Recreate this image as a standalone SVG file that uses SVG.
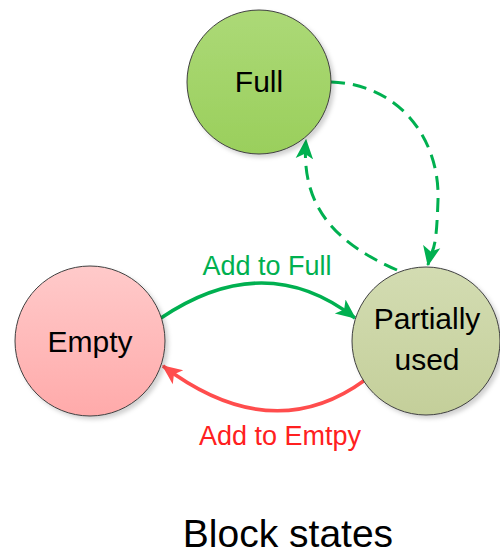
<svg xmlns="http://www.w3.org/2000/svg" width="500" height="556" viewBox="0 0 500 556">
  <style>
    .node { stroke: #3f3f3f; stroke-width: 1; filter: url(#sh); }
    .nt { font-family: "Liberation Sans", Arial, sans-serif; font-size: 30px; fill: #000; text-anchor: middle; }
    .lbl { font-family: "Liberation Sans", Arial, sans-serif; font-size: 27px; text-anchor: middle; }
    .g { stroke: #00b050; fill: none; }
    .r { stroke: #ff4d4d; fill: none; }
    .dash { stroke-width: 3; stroke-dasharray: 14,8; }
  </style>
  <defs>
    <filter id="sh" x="-20%" y="-20%" width="150%" height="150%">
      <feDropShadow dx="3" dy="3" stdDeviation="2" flood-color="#000" flood-opacity="0.18"/>
    </filter>
    <linearGradient id="gFull" x1="0" y1="0" x2="0" y2="1">
      <stop offset="0" stop-color="#acd977"/>
      <stop offset="1" stop-color="#9acf5c"/>
    </linearGradient>
    <linearGradient id="gEmpty" x1="0" y1="0" x2="0" y2="1">
      <stop offset="0" stop-color="#ffcaca"/>
      <stop offset="1" stop-color="#ffaaaa"/>
    </linearGradient>
    <linearGradient id="gPart" x1="0" y1="0" x2="0" y2="1">
      <stop offset="0" stop-color="#d3dcb2"/>
      <stop offset="1" stop-color="#c4cf9a"/>
    </linearGradient>
    <marker id="ag" markerUnits="userSpaceOnUse" markerWidth="20" markerHeight="20" viewBox="0 0 16 14" refX="15" refY="7" orient="auto">
      <path d="M0,0 L16,7 L0,14 L4,7 Z" fill="#00b050"/>
    </marker>
    <marker id="ar" markerUnits="userSpaceOnUse" markerWidth="20" markerHeight="20" viewBox="0 0 16 14" refX="15" refY="7" orient="auto">
      <path d="M0,0 L16,7 L0,14 L4,7 Z" fill="#ff4d4d"/>
    </marker>
  </defs>

  <g id="connectors">
    <path class="g dash" d="M331,82 C400,84 440,140 438,200 S432,245 428,265" marker-end="url(#ag)"/>
    <path class="g dash" d="M397,270 C340,245 300,210 306,140" marker-end="url(#ag)"/>
    <path class="g" stroke-width="3.5" d="M161,318 Q265,248 355,318" marker-end="url(#ag)"/>
    <path class="r" stroke-width="3.5" d="M365,380 Q272,448 163,366" marker-end="url(#ar)"/>
    <text class="lbl" x="267" y="275" fill="#00b050">Add to Full</text>
    <text class="lbl" x="280" y="445" fill="#ff2020">Add to Emtpy</text>
  </g>

  <g id="node-full">
    <circle class="node" cx="259" cy="82" r="72" fill="url(#gFull)"/>
    <text class="nt" x="259" y="92">Full</text>
  </g>
  <g id="node-empty">
    <circle class="node" cx="90" cy="341" r="75" fill="url(#gEmpty)"/>
    <text class="nt" x="90" y="352">Empty</text>
  </g>
  <g id="node-partial">
    <circle class="node" cx="426" cy="341" r="74" fill="url(#gPart)"/>
    <text class="nt" x="427" y="329">Partially</text>
    <text class="nt" x="427" y="370">used</text>
  </g>

  <g id="title">
    <text x="288" y="547" font-family="'Liberation Sans', Arial, sans-serif" font-size="39" text-anchor="middle" fill="#000">Block states</text>
  </g>
</svg>
